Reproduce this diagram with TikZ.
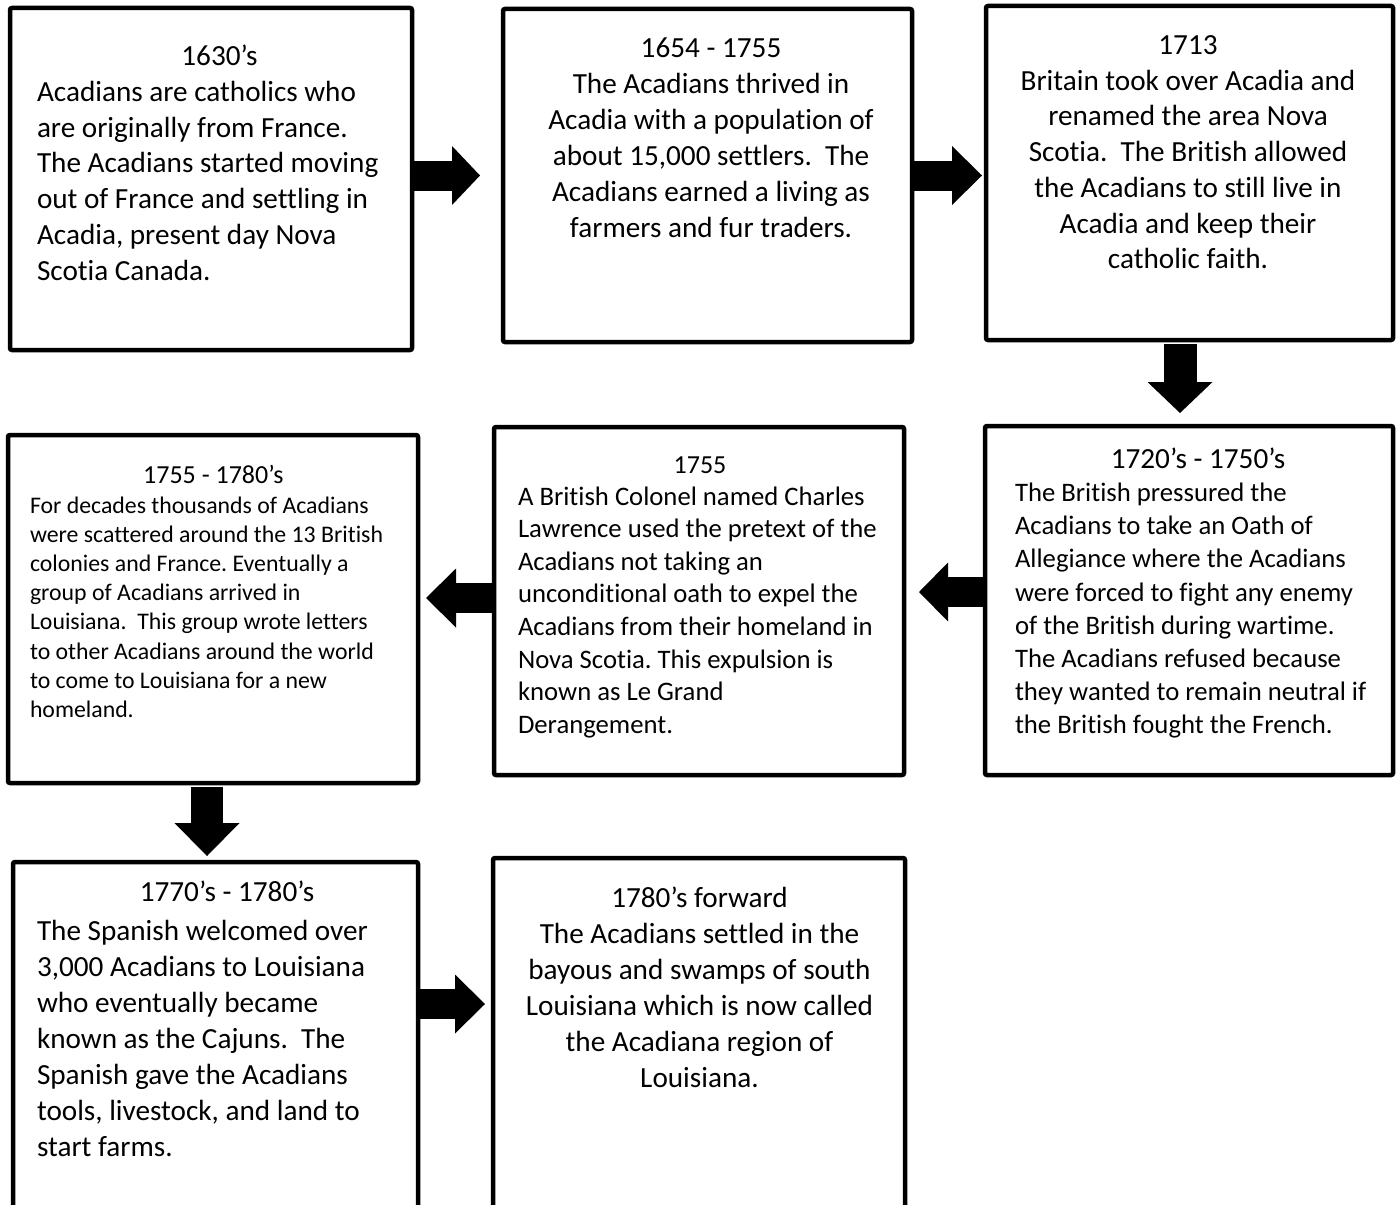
\documentclass[tikz,border=0pt]{standalone}
\usepackage{fontspec}
\setmainfont{Carlito}[Ligatures={TeX,NoCommon}]
\usetikzlibrary{arrows.meta}
\newcommand\mystrut{\rule{0pt}{0.8em}}
\begin{document}
\begin{tikzpicture}[x=1pt,y=1pt,
 box/.style={draw, line width=4.5pt, rounded corners=2pt, inner sep=0pt, outer sep=0pt, fill=white},
 bigtxt/.style={font=\fontsize{29.2}{35.7}\selectfont, inner sep=0pt, outer sep=0pt},
 midtxt/.style={font=\fontsize{26.7}{33}\selectfont, inner sep=0pt, outer sep=0pt},
 smltxt/.style={font=\fontsize{23.8}{29.2}\selectfont, inner sep=0pt, outer sep=0pt},
 ttl/.style={font=\fontsize{26}{32}\selectfont, inner sep=0pt, outer sep=0pt},
 harrow/.style={line width=30pt, -{Triangle[length=#1, width=59pt, line width=0pt]}},
 varrow/.style={line width=33pt, -{Triangle[length=#1, width=65pt, line width=0pt]}}]
\useasboundingbox (0,0) rectangle (1396,-1204);
\clip (0,0) rectangle (1396,-1204);
\fill[white] (0,0) rectangle (1396,-1204);
\frenchspacing
% boxes
\node[box, minimum width=402pt, minimum height=342pt] (b1) at (211,-179) {};
\node[box, minimum width=409pt, minimum height=333pt] (b2) at (707.5,-175.5) {};
\node[box, minimum width=407pt, minimum height=334pt] (b3) at (1189.5,-173) {};
\node[box, minimum width=408pt, minimum height=349pt] (b4) at (1189,-600.5) {};
\node[box, minimum width=410pt, minimum height=348pt] (b5) at (699,-601) {};
\node[box, minimum width=410pt, minimum height=348pt] (b6) at (213,-609) {};
\node[box, minimum width=405pt, minimum height=378pt] (b7) at (215.5,-1051) {};
\node[box, minimum width=412pt, minimum height=382pt] (b8) at (699,-1049) {};
% texts
\node[bigtxt, anchor=north] (t1) at (219.5,-42.64) {\mystrut 1630’s};
\node[bigtxt, anchor=north west, align=left] (x1) at (37,-78.14) {\mystrut Acadians are catholics who\\are originally from France.\\The Acadians started moving\\out of France and settling in\\Acadia, present day Nova\\Scotia Canada.};
\node[bigtxt, anchor=north, align=center, font=\fontsize{29.2}{36}\selectfont] (x2) at (711,-34.14) {\mystrut 1654 - 1755\\The Acadians thrived in\\Acadia with a population of\\about 15,000 settlers.\ \ The\\Acadians earned a living as\\farmers and fur traders.};
\node[bigtxt, anchor=north, align=center] (x3) at (1188,-31.14) {\mystrut 1713\\Britain took over Acadia and\\renamed the area Nova\\Scotia.\ \ The British allowed\\the Acadians to still live in\\Acadia and keep their\\catholic faith.};
\node[bigtxt, anchor=north] (t4) at (1198,-445.14) {\mystrut 1720’s - 1750’s};
\node[midtxt, anchor=north west, align=left, font=\fontsize{26.7}{33.2}\selectfont] (x4) at (1015,-480.14) {\mystrut The British pressured the\\Acadians to take an Oath of\\Allegiance where the Acadians\\were forced to fight any enemy\\of the British during wartime.\\The Acadians refused because\\they wanted to remain neutral if\\the British fought the French.};
\node[ttl, anchor=north] (t5) at (700,-452.7) {\mystrut 1755};
\node[midtxt, anchor=north west, align=left, font=\fontsize{26.7}{32.6}\selectfont] (x5) at (518,-483.64) {\mystrut A British Colonel named Charles\\Lawrence used the pretext of the\\Acadians not taking an\\unconditional oath to expel the\\Acadians from their homeland in\\Nova Scotia. This expulsion is\\known as Le Grand\\Derangement.};
\node[ttl, anchor=north] (t6) at (213.3,-462.2) {\mystrut 1755 - 1780’s};
\node[smltxt, anchor=north west, align=left] (x6) at (30,-493.96) {\mystrut For decades thousands of Acadians\\were scattered around the 13 British\\colonies and France. Eventually a\\group of Acadians arrived in\\Louisiana.\ \ This group wrote letters\\to other Acadians around the world\\to come to Louisiana for a new\\homeland.};
\node[bigtxt, anchor=north] (t7) at (227,-878.14) {\mystrut 1770’s - 1780’s};
\node[bigtxt, anchor=north west, align=left, font=\fontsize{29.2}{36}\selectfont] (x7) at (37,-917.14) {\mystrut The Spanish welcomed over\\3,000 Acadians to Louisiana\\who eventually became\\known as the Cajuns.\ \ The\\Spanish gave the Acadians\\tools, livestock, and land to\\start farms.};
\node[bigtxt, anchor=north, align=center, font=\fontsize{29.2}{36}\selectfont] (x8) at (699.5,-884.14) {\mystrut 1780’s forward\\The Acadians settled in the\\bayous and swamps of south\\Louisiana which is now called\\the Acadiana region of\\Louisiana.};
% arrows
\draw[harrow=28pt, shorten >=23pt] (b2.west -| b1.east) -- (b2.west);
\draw[harrow=30pt, shorten >=4pt] (b2.east) -- (b2.east -| b3.west);
\draw[varrow=31pt, shorten <=4pt, shorten >=13pt] ([xshift=-9.5pt]b3.south) -- ([xshift=-9.5pt]b3.south |- b4.north);
\draw[harrow=29pt, shorten >=15pt] ([yshift=8.5pt]b4.west) -- ([yshift=8.5pt]b4.west -| b5.east);
\draw[harrow=30pt, shorten >=8pt] ([yshift=3pt]b5.west) -- ([yshift=3pt]b5.west -| b6.east);
\draw[varrow=33pt, line width=32pt, shorten <=4pt, shorten >=6pt] ([xshift=-6pt]b6.south) -- ([xshift=-6pt]b6.south |- b7.north);
\draw[harrow=30pt, shorten >=8pt] ([yshift=47pt]b7.east) -- ([yshift=47pt]b7.east -| b8.west);
\end{tikzpicture}
\end{document}
